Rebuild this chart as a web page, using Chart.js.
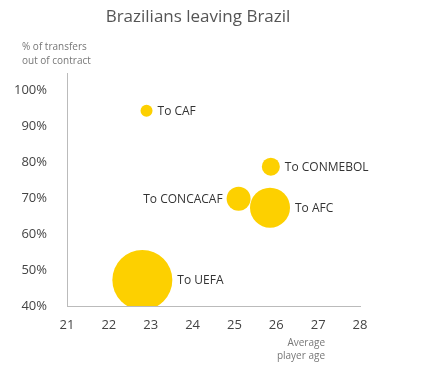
<!DOCTYPE html>
<html>
<head>
<meta charset="utf-8">
<script src="https://cdn.jsdelivr.net/npm/chart.js@4"></script>
<style>
  html, body { margin: 0; padding: 0; background: #fff; }
  #wrap { width: 432px; height: 377px; }
</style>
</head>
<body>
<div id="wrap"><canvas id="graficoBurbujas" width="432" height="377"></canvas></div>
<script>
// Datos
const destinos = ['To CAF', 'To CONMEBOL', 'To CONCACAF', 'To AFC', 'To UEFA'];
const edadPromedio = [22.9, 25.87, 25.1, 25.85, 22.8];
const pctFueraContrato = [94.2, 78.7, 69.8, 67.3, 47.2];
const tamano = [6, 9, 12, 20, 30];
const ticksY = [40, 50, 60, 70, 80, 90, 100];
const ticksX = [21, 22, 23, 24, 25, 26, 27, 28];

const FUENTE = "'Open Sans', 'DejaVu Sans', sans-serif";

// Etiquetas junto a cada burbuja y textos del titulo / ejes
const etiquetasPlugin = {
    id: 'etiquetas',
    afterDatasetsDraw(chart, args, opts) {
        const ctx = chart.ctx;
        const meta = chart.getDatasetMeta(0);
        ctx.save();
        ctx.font = '12px ' + FUENTE;
        ctx.fillStyle = '#333';
        ctx.textBaseline = 'middle';
        meta.data.forEach((pt, i) => {
            const r = tamano[i];
            const izq = opts.izquierda.includes(destinos[i]);
            ctx.textAlign = izq ? 'right' : 'left';
            const x = izq ? pt.x - r - 4 : pt.x + r + 5;
            ctx.fillText(destinos[i], x, pt.y + 1);
        });
        ctx.restore();
    },
    afterDraw(chart) {
        const ctx = chart.ctx;
        ctx.save();
        ctx.fillStyle = '#555';
        ctx.textAlign = 'center';
        ctx.textBaseline = 'middle';
        ctx.font = '17px ' + FUENTE;
        ctx.fillText('Brazilians leaving Brazil', 198, 17);
        ctx.fillStyle = '#777';
        ctx.font = '10px ' + FUENTE;
        ctx.textAlign = 'left';
        ctx.fillText('% of transfers', 22, 47);
        ctx.fillText('out of contract', 22, 61);
        ctx.textAlign = 'right';
        ctx.fillText('Average', 325, 343);
        ctx.fillText('player age', 325, 356);
        ctx.restore();
    }
};

const ctx = document.getElementById('graficoBurbujas').getContext('2d');
new Chart(ctx, {
    type: 'bubble',
    data: {
        datasets: [{
            data: destinos.map((d, i) => ({ x: edadPromedio[i], y: pctFueraContrato[i], r: tamano[i] })),
            backgroundColor: '#fdd000',
            borderColor: '#fdd000',
            borderWidth: 0,
            hoverRadius: 0,
            clip: 0
        }]
    },
    options: {
        responsive: false,
        animation: false,
        layout: { padding: { top: 73, right: 72, left: 0, bottom: 0 } },
        plugins: {
            legend: { display: false },
            tooltip: { enabled: false },
            etiquetas: { izquierda: ['To CONCACAF'] }
        },
        scales: {
            x: {
                type: 'linear',
                min: 21,
                max: 28,
                afterBuildTicks: axis => { axis.ticks = ticksX.map(v => ({ value: v })); },
                afterFit: axis => { axis.height = 71; },
                grid: { display: false },
                border: { display: true, color: '#bbb', width: 1 },
                ticks: { color: '#444', font: { family: FUENTE, size: 13 }, padding: 3, maxRotation: 0 }
            },
            y: {
                type: 'linear',
                min: 40,
                max: 104.7,
                afterBuildTicks: axis => { axis.ticks = ticksY.map(v => ({ value: v })); },
                afterFit: axis => { axis.width = 67; },
                grid: { display: false },
                border: { display: true, color: '#bbb', width: 1 },
                ticks: {
                    color: '#444',
                    font: { family: FUENTE, size: 13 },
                    padding: 12,
                    callback: v => v + '%'
                }
            }
        }
    },
    plugins: [etiquetasPlugin]
});
</script>
</body>
</html>
